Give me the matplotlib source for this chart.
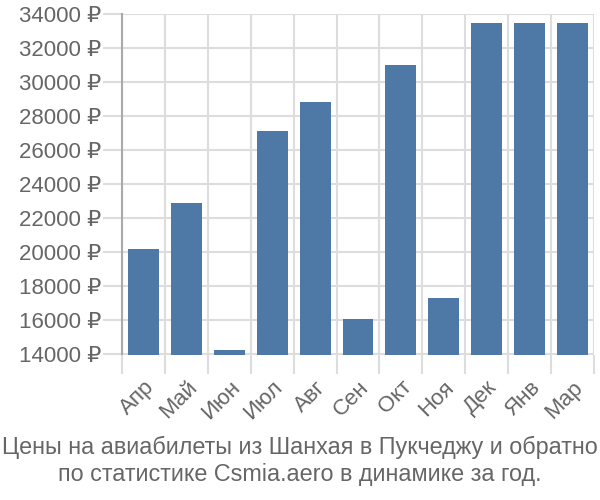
import matplotlib.pyplot as plt
import numpy as np

months = ["Апр", "Май", "Июн", "Июл", "Авг", "Сен", "Окт", "Ноя", "Дек", "Янв", "Мар"]
prices = [20200, 22900, 14280, 27150, 28850, 16090, 31030, 17330, 33480, 33480, 33480]
y_ticks = list(range(14000, 34001, 2000))
title = ("Цены на авиабилеты из Шанхая в Пукчеджу и обратно\n"
         "по статистике Csmia.aero в динамике за год.")

plt.rcParams["font.family"] = ["Liberation Sans", "DejaVu Sans"]

fig = plt.figure(figsize=(6, 5), dpi=100)
ax = fig.add_axes([0.2033, 0.291, 0.7867, 0.68])

x = np.arange(len(months))
ax.bar(x, prices, width=0.72, color="#4e79a7", zorder=3)

ax.set_xlim(-0.5, len(months) - 0.5)
ax.set_ylim(14000, 34000)

ax.set_yticks(y_ticks)
ax.set_yticklabels([f"{v} ₽" for v in y_ticks])
ax.tick_params(axis="y", length=14, color="#dddddd", width=1.5,
               labelsize=16, labelcolor="#666666", pad=1)

ax.set_xticks(x)
ax.set_xticklabels(months, rotation=45, ha="right", va="top",
                   rotation_mode="anchor")
ax.tick_params(axis="x", which="major", length=0, pad=16,
               labelsize=16, labelcolor="#666666")
ax.set_xticks(np.arange(len(months) + 1) - 0.5, minor=True)
ax.tick_params(axis="x", which="minor", length=14, color="#dddddd", width=1.5)

ax.grid(axis="y", color="#dddddd", linewidth=1.5, zorder=0)
ax.grid(axis="x", which="minor", color="#dddddd", linewidth=1.5, zorder=0)

for side in ["top", "right", "bottom"]:
    ax.spines[side].set_visible(False)
ax.spines["left"].set_color("#aaaaaa")
ax.spines["left"].set_linewidth(1.5)
ax.spines["left"].set_zorder(4)

fig.text(0.5, 0.078, title, ha="center", va="center", fontsize=16.8,
         color="#666666", linespacing=1.2)

fig.savefig("out.png", dpi=100)
